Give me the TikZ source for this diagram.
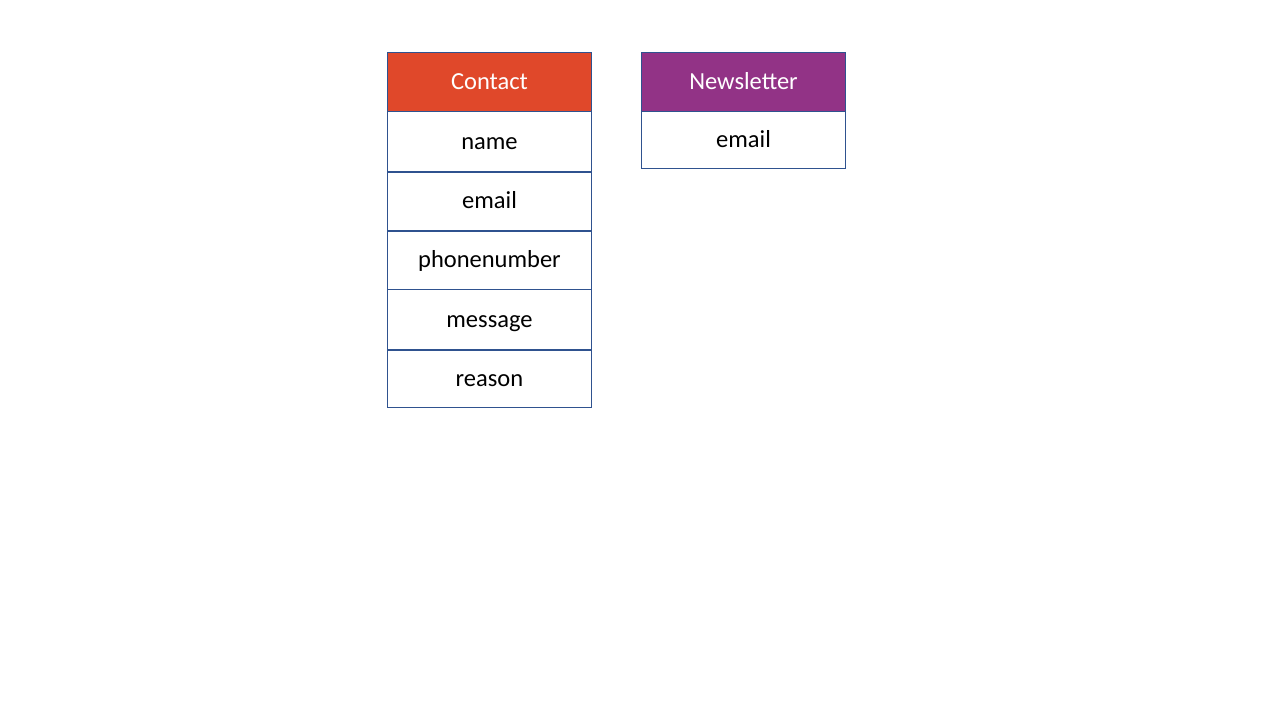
\documentclass[tikz,border=0pt]{standalone}
\usepackage{fontspec}
\setmainfont{Carlito}
\definecolor{hdrorange}{HTML}{E0482A}
\definecolor{hdrpurple}{HTML}{923386}
\definecolor{edgeblue}{HTML}{2F528F}
\begin{document}
\begin{tikzpicture}[x=1pt,y=-1pt,
  cell/.style={draw=edgeblue, line width=1pt, fill=white, minimum width=204pt, inner sep=0pt,
    text height=19pt, text depth=3pt, font=\fontsize{24.5}{28}\selectfont},
  hdr/.style={cell, text=white},
  sep/.style={draw=edgeblue, line width=2pt}]
\fill[white] (0,0) rectangle (1280,720);
% Contact table
\node[hdr, fill=hdrorange, minimum height=59pt] (ch) at (489.5,81.5) {Contact};
\node[cell, minimum height=60pt] (cname) at (489.5,141) {name};
\node[cell, minimum height=59pt] (cemail) at (489.5,200.5) {email};
\node[cell, minimum height=59pt] (cphone) at (489.5,259.5) {phonenumber};
\node[cell, minimum height=60pt] (cmsg) at (489.5,319) {message};
\node[cell, minimum height=58pt] (creason) at (489.5,378) {reason};
\draw[sep] (cname.south west) -- (cname.south east);
\draw[sep] (cemail.south west) -- (cemail.south east);
\draw[sep] (cmsg.south west) -- (cmsg.south east);
% Newsletter table
\node[hdr, fill=hdrpurple, minimum height=59pt] (nh) at (743.5,81.5) {Newsletter};
\node[cell, minimum height=57pt] (nemail) at (743.5,139.5) {email};
\end{tikzpicture}
\end{document}
